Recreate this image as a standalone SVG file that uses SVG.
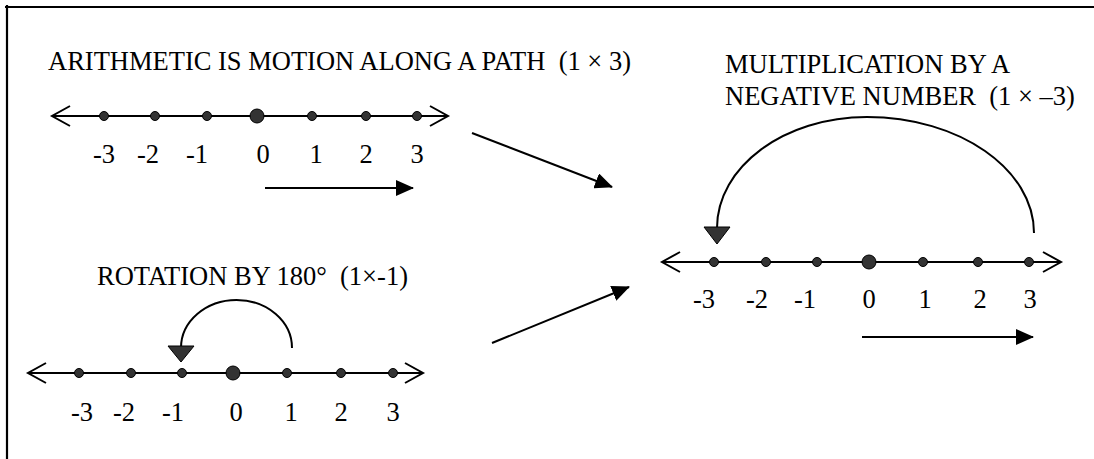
<svg xmlns="http://www.w3.org/2000/svg" width="1094" height="459" viewBox="0 0 1094 459">
<defs>
<style>
text{font-family:"Liberation Serif","Times New Roman",serif;font-size:26.5px;fill:#000;white-space:pre}
.num text{text-anchor:middle}
.nl{stroke:#000;stroke-width:2;fill:none}
.dot{fill:#333;stroke:#000;stroke-width:1}
.arc{stroke:#000;stroke-width:2;fill:none}
.tri{fill:#333;stroke:#000;stroke-width:1}
.conn{stroke:#000;stroke-width:2;fill:none}
</style>
<marker id="ah" markerWidth="9" markerHeight="8" refX="8.5" refY="4" orient="auto" markerUnits="strokeWidth"><path d="M0,0 L9,4 L0,8 Z" fill="#000"/></marker>
</defs>
<rect width="1094" height="459" fill="#fff"/>
<g id="frame"><path d="M5,7 H1094 M7,5 V459" stroke="#000" stroke-width="2.2" fill="none"/></g>

<g id="top-line">
<text x="48" y="70" xml:space="preserve">ARITHMETIC IS MOTION ALONG A PATH  (1 × 3)</text>
<path class="nl" d="M52,116 H448 M70,106 L52,116 L70,126 M430,106 L448,116 L430,126"/>
<circle class="dot" cx="104" cy="116" r="4.5"/>
<circle class="dot" cx="155" cy="116" r="4.5"/>
<circle class="dot" cx="207" cy="116" r="4.5"/>
<circle class="dot" cx="257" cy="116" r="7"/>
<circle class="dot" cx="312" cy="116" r="4.5"/>
<circle class="dot" cx="366" cy="116" r="4.5"/>
<circle class="dot" cx="417" cy="116" r="4.5"/>
<g class="num">
<text x="104" y="163">-3</text><text x="148" y="163">-2</text><text x="197" y="163">-1</text><text x="263" y="163">0</text><text x="316" y="163">1</text><text x="366" y="163">2</text><text x="417" y="163">3</text>
</g>
<line class="conn" x1="265" y1="188" x2="413" y2="188" marker-end="url(#ah)"/>
</g>

<g id="rotation-line">
<text x="97" y="285" xml:space="preserve">ROTATION BY 180°  (1×-1)</text>
<path class="arc" d="M292,348 A55.5,48 0 0 0 181,348"/>
<path class="tri" d="M168,346 L194,346 L181,362 Z"/>
<path class="nl" d="M28,373 H423 M46,363 L28,373 L46,383 M405,363 L423,373 L405,383"/>
<circle class="dot" cx="79" cy="373" r="4.5"/>
<circle class="dot" cx="131" cy="373" r="4.5"/>
<circle class="dot" cx="182" cy="373" r="4.5"/>
<circle class="dot" cx="233" cy="373" r="7"/>
<circle class="dot" cx="287" cy="373" r="4.5"/>
<circle class="dot" cx="341" cy="373" r="4.5"/>
<circle class="dot" cx="393" cy="373" r="4.5"/>
<g class="num">
<text x="82" y="421">-3</text><text x="124" y="421">-2</text><text x="173" y="421">-1</text><text x="236" y="421">0</text><text x="291" y="421">1</text><text x="341" y="421">2</text><text x="393" y="421">3</text>
</g>
</g>

<g id="negative-line">
<text x="725" y="73">MULTIPLICATION BY A</text>
<text x="725" y="105" xml:space="preserve">NEGATIVE NUMBER  (1 × –3)</text>
<path class="arc" d="M1034,233 C1034,169 959,117 867,117 C784,117 717,167 717,228"/>
<path class="tri" d="M704,227 L730,227 L717,244 Z"/>
<path class="nl" d="M662,262 H1061 M680,252 L662,262 L680,272 M1043,252 L1061,262 L1043,272"/>
<circle class="dot" cx="714" cy="262" r="4.5"/>
<circle class="dot" cx="766" cy="262" r="4.5"/>
<circle class="dot" cx="817" cy="262" r="4.5"/>
<circle class="dot" cx="869" cy="262" r="7"/>
<circle class="dot" cx="923" cy="262" r="4.5"/>
<circle class="dot" cx="978" cy="262" r="4.5"/>
<circle class="dot" cx="1029" cy="262" r="4.5"/>
<g class="num">
<text x="704" y="308">-3</text><text x="757" y="308">-2</text><text x="805" y="308">-1</text><text x="869" y="308">0</text><text x="925" y="308">1</text><text x="980" y="308">2</text><text x="1030" y="308">3</text>
</g>
<line class="conn" x1="862" y1="337" x2="1033" y2="337" marker-end="url(#ah)"/>
</g>

<g id="connectors">
<line class="conn" x1="472" y1="133" x2="612" y2="187" marker-end="url(#ah)"/>
<line class="conn" x1="492" y1="343" x2="629" y2="287" marker-end="url(#ah)"/>
</g>
</svg>
